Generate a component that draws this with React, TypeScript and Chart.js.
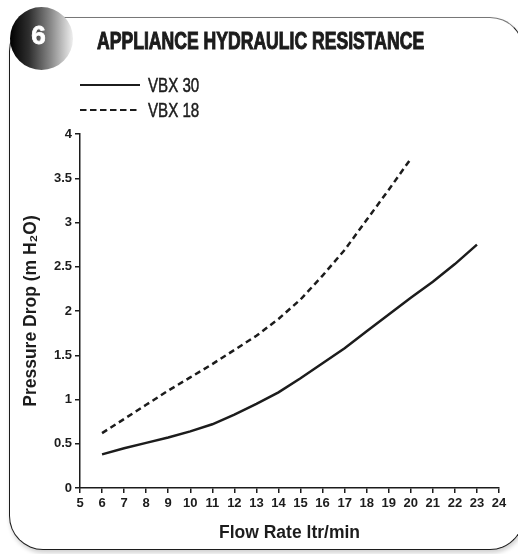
import React, { useEffect, useRef } from "react";
import { Chart, registerables } from "chart.js";

Chart.register(...registerables);

// ---- Data ----
const flowVbx30 = [6, 7, 8, 9, 10, 11, 12, 13, 14, 15, 16, 17, 18, 19, 20, 21, 22, 23];
const dropVbx30 = [0.38, 0.45, 0.51, 0.57, 0.64, 0.72, 0.83, 0.95, 1.08, 1.24, 1.41, 1.58, 1.77, 1.96, 2.15, 2.33, 2.53, 2.75];
const flowVbx18 = [6, 7, 8, 9, 10, 11, 12, 13, 14, 15, 16, 17, 18, 19, 20];
const dropVbx18 = [0.62, 0.78, 0.94, 1.1, 1.25, 1.4, 1.56, 1.72, 1.91, 2.13, 2.4, 2.69, 3.03, 3.37, 3.72];
const seriesLabels = ["VBX 30", "VBX 18"];
const xMin = 5;
const xMax = 24;
const yMin = 0;
const yMax = 4;
const yStep = 0.5;
const titleText = "APPLIANCE HYDRAULIC RESISTANCE";
const badgeText = "6";
const xTitle = "Flow Rate ltr/min";
const yTitle = "Pressure Drop (m H\u2082O)";

const INK = "#1c1c1c";
const AXIS_FONT = "'Liberation Sans', Arial, sans-serif";

const legendPlugin = {
  id: "customLegend",
  afterDraw(chart: any) {
    const ctx = chart.ctx;
    const rows = [85, 110];
    chart.data.datasets.forEach((ds: any, i: number) => {
      const y = rows[i];
      ctx.save();
      ctx.strokeStyle = INK;
      ctx.lineWidth = 2;
      ctx.setLineDash(ds.borderDash && ds.borderDash.length ? [6.5, 3.5] : []);
      ctx.beginPath();
      ctx.moveTo(80, y);
      ctx.lineTo(140, y);
      ctx.stroke();
      ctx.setLineDash([]);
      ctx.fillStyle = INK;
      ctx.strokeStyle = INK;
      ctx.lineWidth = 0.5;
      ctx.font = `21px ${AXIS_FONT}`;
      ctx.textBaseline = "middle";
      ctx.textAlign = "left";
      ctx.translate(148, y + 1);
      ctx.scale(0.72, 1);
      ctx.fillText(ds.label, 0, 0);
      ctx.strokeText(ds.label, 0, 0);
      ctx.restore();
    });
  },
};

function HydraulicChart() {
  const ref = useRef<HTMLCanvasElement | null>(null);
  useEffect(() => {
    if (!ref.current) return;
    const chart = new Chart(ref.current, {
      type: "line",
      data: {
        datasets: [
          {
            label: seriesLabels[0],
            data: flowVbx30.map((x, i) => ({ x, y: dropVbx30[i] })),
            borderColor: INK,
            borderWidth: 2.5,
            pointRadius: 0,
            tension: 0,
            fill: false,
          },
          {
            label: seriesLabels[1],
            data: flowVbx18.map((x, i) => ({ x, y: dropVbx18[i] })),
            borderColor: INK,
            borderWidth: 2.5,
            borderDash: [6, 4],
            pointRadius: 0,
            tension: 0,
            fill: false,
          },
        ],
      },
      options: {
        responsive: false,
        animation: false,
        devicePixelRatio: 1,
        layout: { padding: { top: 134, right: 19, left: 0, bottom: 0 } },
        plugins: { legend: { display: false }, tooltip: { enabled: false }, title: { display: false } },
        scales: {
          x: {
            type: "linear",
            min: xMin,
            max: xMax,
            afterFit: (s: any) => {
              s.height = 66;
            },
            ticks: {
              stepSize: 1,
              color: INK,
              padding: 3,
              font: { family: AXIS_FONT, size: 13, weight: "bold" },
              maxRotation: 0,
              autoSkip: false,
              callback: (v: any) => String(v),
            },
            grid: { drawOnChartArea: false, drawTicks: true, tickLength: 5, color: INK, lineWidth: 1.5 },
            border: { display: true, color: INK, width: 1.5 },
            title: {
              display: true,
              text: xTitle,
              color: INK,
              font: { family: AXIS_FONT, size: 17.5, weight: "bold" },
              padding: { top: 0, bottom: 10 },
            },
          },
          y: {
            type: "linear",
            min: yMin,
            max: yMax,
            afterFit: (s: any) => {
              s.width = 80;
            },
            ticks: {
              stepSize: yStep,
              color: INK,
              padding: 3,
              font: { family: AXIS_FONT, size: 13, weight: "bold" },
              callback: (v: any) => String(v),
            },
            grid: { drawOnChartArea: false, drawTicks: true, tickLength: 5, color: INK, lineWidth: 1.5 },
            border: { display: true, color: INK, width: 1.5 },
            title: {
              display: true,
              text: yTitle,
              color: INK,
              font: { family: AXIS_FONT, size: 17.5, weight: "bold" },
              padding: { top: 21, bottom: 0 },
            },
          },
        },
      },
      plugins: [legendPlugin],
    });
    return () => chart.destroy();
  }, []);
  return (
    <canvas
      ref={ref}
      width={518}
      height={554}
      style={{ position: "absolute", left: 0, top: 0, width: 518, height: 554 }}
    />
  );
}

export default function App() {
  return (
    <div
      style={{
        position: "fixed",
        left: 0,
        top: 0,
        width: 518,
        height: 554,
        overflow: "hidden",
        background: "#fff",
      }}
    >
      <div
        style={{
          position: "absolute",
          left: 9,
          top: 17,
          width: 513,
          height: 531,
          border: `1.5px solid ${INK}`,
          borderTopColor: "#777",
          borderRadius: 34,
          boxShadow: "1px 3px 4px rgba(0,0,0,0.18)",
          background: "#fff",
        }}
      />
      <HydraulicChart />
      <div
        style={{
          position: "absolute",
          left: 10,
          top: 7,
          width: 63,
          height: 63,
          borderRadius: "50%",
          background: "linear-gradient(90deg, #000 0%, #2e2e2e 30%, #8a8a8a 65%, #d8d8d8 92%, #eee 100%)",
        }}
      />
      <div
        style={{
          position: "absolute",
          left: 10,
          top: 7,
          width: 57,
          height: 56,
          display: "flex",
          alignItems: "center",
          justifyContent: "center",
          color: "#fff",
          fontFamily: AXIS_FONT,
          fontWeight: "bold",
          fontSize: 26,
          WebkitTextStroke: "0.8px #fff",
        }}
      >
        {badgeText}
      </div>
      <div
        style={{
          position: "absolute",
          left: 97,
          top: 27,
          fontFamily: AXIS_FONT,
          fontWeight: "bold",
          fontSize: 23,
          lineHeight: "28px",
          color: INK,
          whiteSpace: "nowrap",
          transformOrigin: "left center",
          transform: "scaleX(0.765)",
          WebkitTextStroke: `1px ${INK}`,
        }}
      >
        {titleText}
      </div>
    </div>
  );
}
